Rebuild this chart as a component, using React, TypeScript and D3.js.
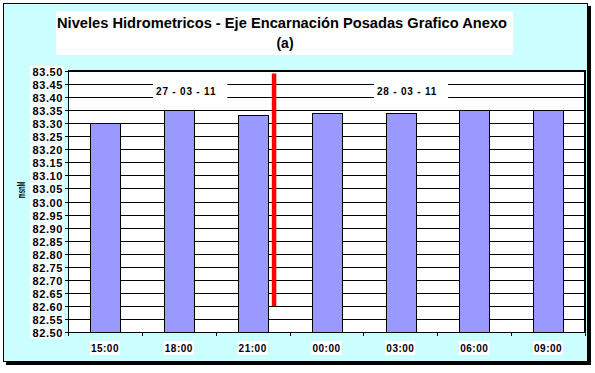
import { useEffect, useRef } from "react";
import * as d3 from "d3";

const categories = ["15:00", "18:00", "21:00", "00:00", "03:00", "06:00", "09:00"];
const levels = [83.3, 83.35, 83.33, 83.34, 83.34, 83.35, 83.35];
const yTicks = [
  82.5, 82.55, 82.6, 82.65, 82.7, 82.75, 82.8, 82.85, 82.9, 82.95, 83.0,
  83.05, 83.1, 83.15, 83.2, 83.25, 83.3, 83.35, 83.4, 83.45, 83.5,
];
const dateLabels = ["27 - 03 - 11", "28 - 03 - 11"];
const datePositions = [1.6, 4.59]; // category units
const dateLevel = 83.425;
const markerPosition = 2.79; // category units, between 21:00 and 00:00
const markerRange = [82.6, 83.49];
const titleLines = ["Niveles Hidrometricos - Eje Encarnación Posadas Grafico Anexo", "(a)"];

const FONT = "'Liberation Sans', Arial, sans-serif";

const App = () => {
  const ref = useRef<SVGSVGElement>(null);

  useEffect(() => {
    document.body.style.margin = "0";
    const svg = d3.select(ref.current);
    svg.selectAll("*").remove();

    const W = 595;
    const H = 373;
    const margin = { top: 71, right: 10, bottom: 41, left: 68 };
    const width = W - margin.left - margin.right;
    const height = H - margin.top - margin.bottom;

    // chart area with shadow
    svg.append("rect").attr("x", 6).attr("y", 6).attr("width", 585).attr("height", 359).attr("fill", "#000");
    svg.append("rect").attr("x", 3.5).attr("y", 3.5).attr("width", 584).attr("height", 358)
      .attr("fill", "#CCFFFF").attr("stroke", "#000").attr("stroke-width", 1);

    // title
    svg.append("rect").attr("x", 56).attr("y", 11).attr("width", 457).attr("height", 44).attr("fill", "#fff");
    svg.append("text").attr("x", 282).attr("y", 28).attr("text-anchor", "middle")
      .attr("font-family", FONT).attr("font-weight", "bold").attr("font-size", 14)
      .attr("textLength", 450).attr("lengthAdjust", "spacingAndGlyphs")
      .text(titleLines[0]);
    svg.append("text").attr("x", 285).attr("y", 48).attr("text-anchor", "middle")
      .attr("font-family", FONT).attr("font-weight", "bold").attr("font-size", 14)
      .text(titleLines[1]);

    const g = svg.append("g").attr("transform", `translate(${margin.left},${margin.top})`);

    const y = d3.scaleLinear().domain([82.5, 83.5]).range([height, 0]);
    const x = d3.scaleBand().domain(categories).range([0, width]).paddingInner(0.6).paddingOuter(0.3);
    const xc = d3.scaleLinear().domain([0, categories.length]).range([0, width]);

    g.append("rect").attr("width", width).attr("height", height).attr("fill", "#fff");

    // gridlines
    g.selectAll(".grid").data(yTicks).enter().append("line")
      .attr("x1", 0).attr("x2", width)
      .attr("y1", (d) => Math.round(y(d)) + 0.5).attr("y2", (d) => Math.round(y(d)) + 0.5)
      .attr("stroke", "#000").attr("stroke-width", 1);

    // date annotations
    dateLabels.forEach((label, i) => {
      const cx = xc(datePositions[i]);
      const cy = y(dateLevel);
      const t = g.append("text").attr("x", cx).attr("y", cy + 4).attr("text-anchor", "middle")
        .attr("font-family", FONT).attr("font-weight", "bold").attr("font-size", 10)
        .attr("letter-spacing", 0.8).text(label);
      const bb = (t.node() as SVGTextElement).getBBox();
      g.insert("rect", () => t.node())
        .attr("x", bb.x - 3).attr("y", cy - 9).attr("width", bb.width + 14).attr("height", 18)
        .attr("fill", "#fff");
    });

    // bars
    g.selectAll(".bar").data(levels).enter().append("rect")
      .attr("x", (_, i) => Math.round(x(categories[i])!) + 0.5)
      .attr("y", (d) => Math.round(y(d)) + 0.5)
      .attr("width", Math.round(x.bandwidth()))
      .attr("height", (d) => Math.round(height - y(d)))
      .attr("fill", "#9999FF").attr("stroke", "#000").attr("stroke-width", 1);

    // red marker
    g.append("line")
      .attr("x1", xc(markerPosition)).attr("x2", xc(markerPosition))
      .attr("y1", y(markerRange[0])).attr("y2", y(markerRange[1]))
      .attr("stroke", "#FF0000").attr("stroke-width", 4.5);

    // plot frame
    g.append("line").attr("x1", 0).attr("x2", width + 1).attr("y1", 0).attr("y2", 0)
      .attr("stroke", "#000").attr("stroke-width", 2);
    g.append("line").attr("x1", width).attr("x2", width).attr("y1", 0).attr("y2", height)
      .attr("stroke", "#000").attr("stroke-width", 2);
    g.append("line").attr("x1", 0.5).attr("x2", 0.5).attr("y1", 0).attr("y2", height + 0.5)
      .attr("stroke", "#000").attr("stroke-width", 1);
    g.append("line").attr("x1", 0).attr("x2", width).attr("y1", height + 0.5).attr("y2", height + 0.5)
      .attr("stroke", "#000").attr("stroke-width", 1);

    // y axis ticks + labels
    const yt = g.selectAll(".ytick").data(yTicks).enter().append("g")
      .attr("transform", (d) => `translate(0,${Math.round(y(d)) + 0.5})`);
    yt.append("line").attr("x1", -3).attr("x2", 3).attr("stroke", "#000");
    yt.append("rect").attr("x", -38).attr("y", -6).attr("width", 34).attr("height", 12).attr("fill", "#fff");
    yt.append("text").attr("x", -5).attr("y", 4).attr("text-anchor", "end")
      .attr("font-family", FONT).attr("font-weight", "bold").attr("font-size", 11)
      .attr("letter-spacing", 0.6).text((d) => d.toFixed(2));

    // x axis ticks + labels
    g.selectAll(".xtick").data(d3.range(categories.length + 1)).enter().append("line")
      .attr("x1", (d) => Math.round(xc(d)) + 0.5).attr("x2", (d) => Math.round(xc(d)) + 0.5)
      .attr("y1", height).attr("y2", height + 4).attr("stroke", "#000");
    const xt = g.selectAll(".xlab").data(categories).enter().append("g")
      .attr("transform", (d) => `translate(${x(d)! + x.bandwidth() / 2},${height + 16})`);
    xt.append("rect").attr("x", -15).attr("y", -7).attr("width", 30).attr("height", 14).attr("fill", "#fff");
    xt.append("text").attr("y", 4).attr("text-anchor", "middle")
      .attr("font-family", FONT).attr("font-weight", "bold").attr("font-size", 10)
      .attr("letter-spacing", 0.5).text((d) => d);

    // y axis title
    svg.append("text").attr("transform", "translate(25,190) rotate(-90)").attr("text-anchor", "middle")
      .attr("font-family", FONT).attr("font-weight", "bold").attr("font-size", 11)
      .attr("textLength", 17).attr("lengthAdjust", "spacingAndGlyphs").text("msnM");
  }, []);

  return <svg ref={ref} width={595} height={373} style={{ display: "block" }}></svg>;
};

export default App;
